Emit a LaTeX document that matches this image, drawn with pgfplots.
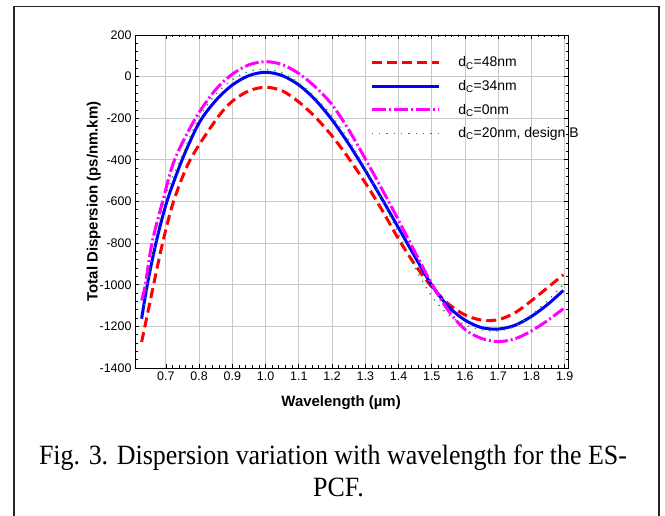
\documentclass[border=0pt]{standalone}
\usepackage{fontspec}
\setmainfont{Liberation Sans}
\newfontfamily\captfont{Liberation Serif}
\usepackage{pgfplots}
\pgfplotsset{compat=1.18}
\definecolor{gridgray}{RGB}{200,200,200}
\definecolor{dgreen}{RGB}{20,160,20}
\definecolor{pmagenta}{RGB}{255,0,255}
\definecolor{pred}{RGB}{255,0,0}
\definecolor{pblue}{RGB}{0,0,255}

\begin{document}
\begin{tikzpicture}
\useasboundingbox (0,0) rectangle (665bp,516bp);
\fill[white] (0,0) rectangle (665bp,516bp);
% outer figure frame (bottom edge runs off the page)
\draw[line width=1.8bp, black!85] (14bp,-10bp) rectangle (659bp,509.5bp);

\begin{axis}[
  at={(135bp,148bp)}, anchor=south west,
  scale only axis, width=433bp, height=333bp,
  xmin=0.607, xmax=1.91, ymin=-1400, ymax=200,
  xtick={0.7,0.8,0.9,1.0,1.1,1.2,1.3,1.4,1.5,1.6,1.7,1.8,1.9},
  ytick={-1400,-1200,-1000,-800,-600,-400,-200,0,200},
  minor x tick num=4, minor y tick num=4,
  grid=major, major grid style={gridgray, line width=0.9bp},
  axis line style={line width=0.9bp},
  tick style={black, line width=0.8bp},
  major tick length=4bp, minor tick length=2.5bp,
  ticklabel style={font=\fontsize{12.5}{14}\selectfont},
  /pgf/number format/assume math mode=true,
  /pgf/number format/1000 sep={},
  xticklabel style={/pgf/number format/fixed, /pgf/number format/fixed zerofill, /pgf/number format/precision=1},
  label style={font=\fontsize{15}{18}\selectfont\bfseries},
  xlabel={Wavelength (µm)},
  ylabel={Total Dispersion (ps/nm.km)},
  xlabel style={at={(axis description cs:0.476,-0.117)}, anchor=base},
  ylabel style={at={(axis description cs:-0.095,0.5)}, anchor=center},
  legend style={draw=none, fill=none, at={(0.543,0.941)}, anchor=north west,
    font=\fontsize{14}{16}\selectfont, inner sep=0pt, row sep=8bp,
    /tikz/every odd column/.append style={column sep=16bp}},
  legend cell align=left,
  legend image code/.code={\draw[#1] (0bp,0bp) -- (67bp,0bp);},
]

% d_C = 48 nm
\addplot[pred, line width=3bp, dash pattern=on 10bp off 5bp, smooth] coordinates {
(0.627,-1275) (0.663,-1000) (0.690,-800) (0.723,-600) (0.773,-400)
(0.854,-200) (0.900,-118) (0.950,-68) (1.000,-51) (1.050,-68)
(1.100,-122) (1.150,-195) (1.200,-285) (1.250,-392) (1.300,-510)
(1.350,-640) (1.400,-780) (1.450,-905) (1.500,-1010) (1.550,-1092)
(1.600,-1145) (1.650,-1170) (1.700,-1168) (1.750,-1135)
(1.800,-1077) (1.850,-1012) (1.896,-952)
};
\addlegendentry{d\textsubscript{C}=48nm}

% d_C = 34 nm
\addplot[pblue, line width=3bp, smooth] coordinates {
(0.627,-1163) (0.644,-1000) (0.670,-800) (0.703,-600) (0.750,-395)
(0.800,-222) (0.850,-115) (0.900,-40) (0.950,5) (1.000,21)
(1.050,5) (1.100,-40) (1.150,-112) (1.200,-208) (1.250,-323)
(1.300,-451) (1.350,-587) (1.400,-727) (1.450,-867) (1.500,-1002)
(1.550,-1105) (1.600,-1170) (1.650,-1206) (1.700,-1213)
(1.750,-1195) (1.800,-1152) (1.850,-1093) (1.896,-1027)
};
\addlegendentry{d\textsubscript{C}=34nm}

% d_C = 0 nm
\addplot[pmagenta, line width=3bp, dash pattern=on 14bp off 3bp on 2bp off 3bp, smooth] coordinates {
(0.627,-1075) (0.638,-1000) (0.658,-800) (0.690,-600) (0.726,-400)
(0.789,-200) (0.850,-62) (0.900,12) (0.950,57) (1.000,72)
(1.050,58) (1.100,15) (1.150,-50) (1.200,-135) (1.250,-255)
(1.300,-395) (1.350,-540) (1.400,-690) (1.450,-845) (1.500,-995)
(1.550,-1125) (1.600,-1215) (1.650,-1258) (1.700,-1273) (1.750,-1260)
(1.800,-1222) (1.850,-1170) (1.896,-1115)
};
\addlegendentry{d\textsubscript{C}=0nm}

% d_C = 20 nm, design B
\addplot[dgreen, line width=1.3bp, dash pattern=on 1.3bp off 6bp, smooth] coordinates {
(0.635,-1100) (0.650,-950) (0.670,-780) (0.700,-570) (0.750,-375)
(0.800,-195) (0.850,-85) (0.900,-15) (0.950,25) (1.000,35)
(1.050,17) (1.100,-30) (1.150,-100) (1.200,-190) (1.250,-305)
(1.300,-440) (1.350,-590) (1.400,-755) (1.450,-920) (1.500,-1055)
(1.550,-1145) (1.600,-1192) (1.650,-1217) (1.700,-1222) (1.750,-1200)
(1.800,-1145) (1.850,-1075) (1.893,-1003)
};
\addlegendentry{d\textsubscript{C}=20nm, design B}
\end{axis}

% figure caption
\node[font=\captfont\fontsize{28}{32}\selectfont, xscale=0.93, anchor=base, inner sep=0pt]
  at (333bp,51bp) {Fig. 3. Dispersion variation with wavelength for the ES-};
\node[font=\captfont\fontsize{28}{32}\selectfont, xscale=0.93, anchor=base, inner sep=0pt]
  at (338.5bp,19.3bp) {PCF.};
\end{tikzpicture}
\end{document}
